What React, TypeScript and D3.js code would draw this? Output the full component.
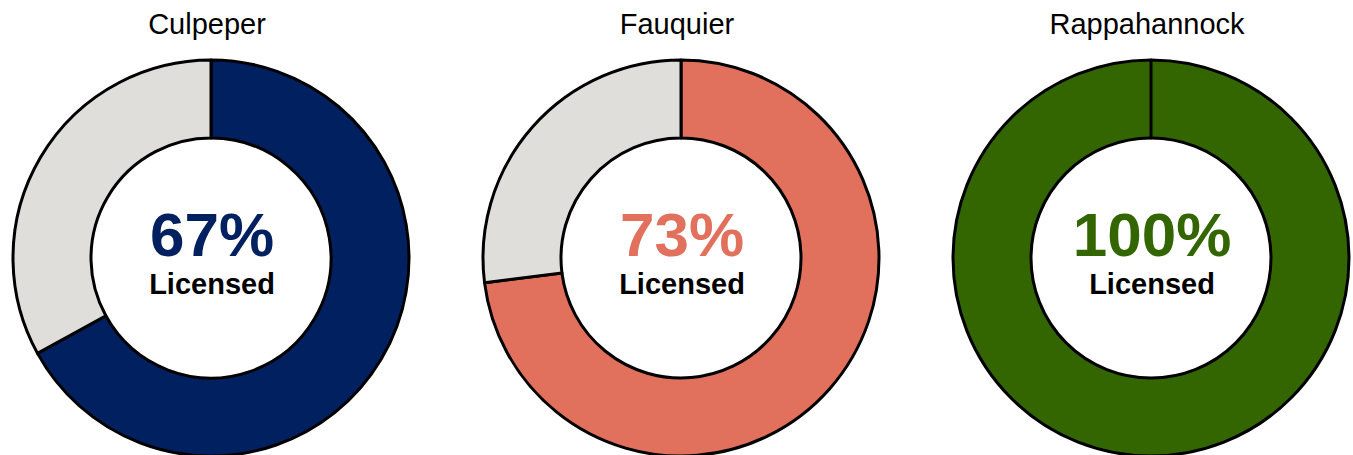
import React from "react";
import * as d3 from "d3";

const counties = ["Culpeper", "Fauquier", "Rappahannock"];
const licensedPct = [67, 73, 100];
const sliceColors = ["#002060", "#E1705D", "#336600"];
const remainderColor = "#E0DEDB";
const centerLabel = "Licensed";

const W = 1353;
const H = 455;

export default function App() {
  const x = d3.scalePoint<string>().domain(counties).range([211, 1151]);
  const cy = 258;
  const outerR = 198;
  const innerR = 120;
  const pie = d3.pie<number>().sort(null).value((d) => d);
  const arc = d3.arc<d3.PieArcDatum<number>>().innerRadius(innerR).outerRadius(outerR);
  const font = "Arial, 'Liberation Sans', sans-serif";

  return (
    <svg
      width={W}
      height={H}
      style={{ position: "absolute", left: 0, top: 0, display: "block" }}
      fontFamily={font}
    >
      {counties.map((name, i) => {
        const cx = x(name) as number;
        const arcs = pie([licensedPct[i], 100 - licensedPct[i]]);
        return (
          <g key={name}>
            <text x={cx - 4} y={34} textAnchor="middle" fontSize={29} fill="#000">
              {name}
            </text>
            <g transform={`translate(${cx},${cy})`}>
              {arcs.map((a, j) => (
                <path
                  key={j}
                  d={arc(a) || ""}
                  fill={j === 0 ? sliceColors[i] : remainderColor}
                  stroke="#000"
                  strokeWidth={3}
                  strokeLinejoin="round"
                />
              ))}
              <text
                x={1}
                y={-2}
                textAnchor="middle"
                fontSize={62}
                fontWeight="bold"
                fill={sliceColors[i]}
              >
                {`${licensedPct[i]}%`}
              </text>
              <text x={1} y={36} textAnchor="middle" fontSize={29} fontWeight="bold" fill="#000">
                {centerLabel}
              </text>
            </g>
          </g>
        );
      })}
    </svg>
  );
}
